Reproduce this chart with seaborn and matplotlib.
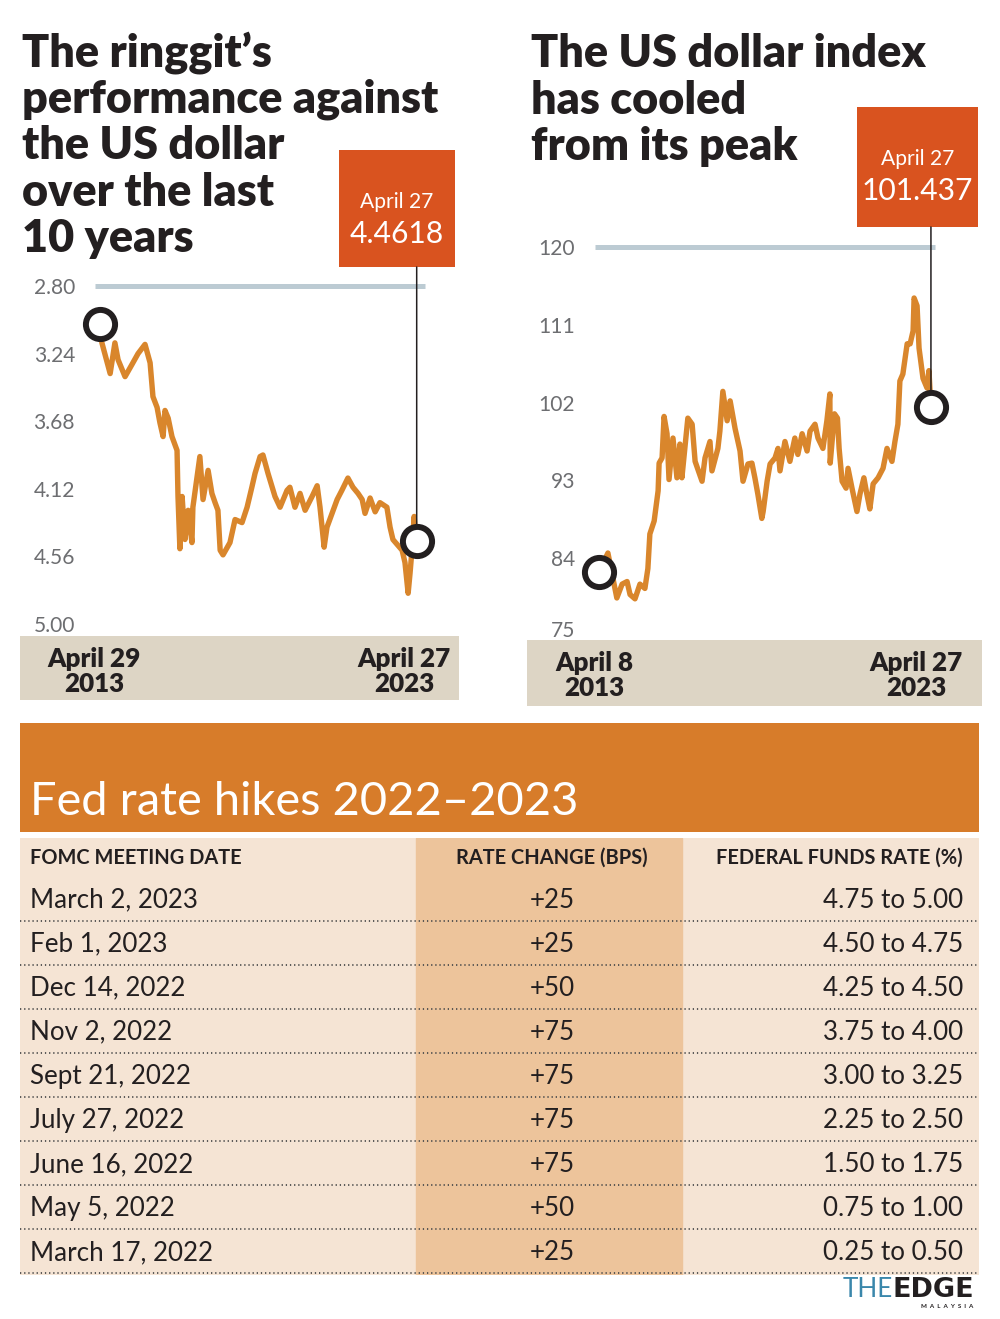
import numpy as np
import pandas as pd
import matplotlib
matplotlib.use("Agg")
import matplotlib.pyplot as plt
import seaborn as sns
from matplotlib.patches import Rectangle, ConnectionPatch
from matplotlib.transforms import blended_transform_factory, ScaledTranslation

# ---------------- data ----------------
ringgit_x = [2013.33, 2013.39, 2013.65, 2013.80, 2013.90, 2014.12, 2014.34, 2014.53, 2014.75, 2014.91,
             2015.00, 2015.13, 2015.22, 2015.32, 2015.38, 2015.48, 2015.60, 2015.76, 2015.79, 2015.85,
             2015.92, 2016.01, 2016.11, 2016.23, 2016.26, 2016.48, 2016.58, 2016.74, 2016.86, 2016.96,
             2017.05, 2017.12, 2017.21, 2017.43, 2017.59, 2017.81, 2017.97, 2018.12, 2018.22, 2018.38,
             2018.47, 2018.63, 2018.85, 2019.01, 2019.23, 2019.32, 2019.48, 2019.64, 2019.80, 2020.02,
             2020.18, 2020.27, 2020.40, 2020.49, 2020.65, 2020.81, 2020.96, 2021.15, 2021.31, 2021.47,
             2021.60, 2021.69, 2021.85, 2022.01, 2022.16, 2022.38, 2022.48, 2022.57, 2022.86, 2022.95,
             2023.05, 2023.11, 2023.17, 2023.24, 2023.28, 2023.32]
ringgit_y = [3.05, 3.17, 3.37, 3.17, 3.28, 3.39, 3.31, 3.24, 3.18, 3.30,
             3.52, 3.59, 3.69, 3.78, 3.61, 3.66, 3.78, 3.87, 4.17, 4.51,
             4.17, 4.45, 4.26, 4.47, 4.24, 3.91, 4.19, 4.00, 4.15, 4.21,
             4.26, 4.52, 4.55, 4.47, 4.32, 4.34, 4.24, 4.11, 4.02, 3.91,
             3.90, 4.02, 4.17, 4.24, 4.13, 4.11, 4.24, 4.15, 4.26, 4.17,
             4.10, 4.24, 4.50, 4.37, 4.28, 4.19, 4.13, 4.05, 4.11, 4.15,
             4.19, 4.28, 4.18, 4.27, 4.21, 4.24, 4.37, 4.45, 4.52, 4.60,
             4.80, 4.67, 4.52, 4.30, 4.41, 4.4618]
ringgit_ticks = [2.80, 3.24, 3.68, 4.12, 4.56, 5.00]

dxy_x = [2013.27, 2013.54, 2013.81, 2013.97, 2014.12, 2014.21, 2014.36, 2014.51, 2014.66, 2014.75,
         2014.81, 2014.94, 2015.06, 2015.09, 2015.18, 2015.24, 2015.33, 2015.39, 2015.51, 2015.63,
         2015.72, 2015.78, 2015.96, 2016.09, 2016.18, 2016.39, 2016.48, 2016.63, 2016.69, 2016.87,
         2016.93, 2017.02, 2017.15, 2017.24, 2017.39, 2017.54, 2017.63, 2017.78, 2017.90, 2017.99,
         2018.08, 2018.20, 2018.24, 2018.36, 2018.45, 2018.60, 2018.69, 2018.75, 2018.90, 2019.05,
         2019.20, 2019.29, 2019.42, 2019.57, 2019.66, 2019.81, 2019.90, 2020.05, 2020.17, 2020.26,
         2020.27, 2020.40, 2020.49, 2020.54, 2020.63, 2020.75, 2020.81, 2020.93, 2021.08, 2021.17,
         2021.29, 2021.38, 2021.47, 2021.57, 2021.72, 2021.87, 2021.99, 2022.14, 2022.23, 2022.32,
         2022.38, 2022.47, 2022.60, 2022.69, 2022.78, 2022.81, 2022.90, 2022.96, 2023.08, 2023.20,
         2023.26, 2023.32]
dxy_y = [82.4, 84.6, 79.4, 81.0, 81.3, 79.8, 79.3, 81.0, 80.5, 82.8,
         86.8, 88.3, 91.8, 95.0, 95.6, 100.4, 98.4, 93.1, 97.9, 93.3,
         97.2, 93.3, 100.2, 99.5, 95.2, 92.9, 95.6, 97.5, 94.1, 96.7,
         98.7, 103.3, 99.9, 102.2, 99.0, 96.4, 92.9, 94.9, 95.0, 93.3,
         91.4, 88.6, 89.4, 92.9, 94.9, 95.6, 96.7, 94.1, 97.5, 95.2,
         97.9, 96.0, 98.4, 96.4, 98.7, 99.5, 97.9, 96.7, 99.9, 103.0,
         95.0, 100.7, 100.2, 96.7, 92.9, 92.1, 94.4, 92.1, 89.4, 91.4,
         93.3, 91.4, 89.7, 92.6, 93.3, 94.4, 96.7, 95.2, 97.5, 99.5,
         104.5, 105.3, 108.8, 108.8, 110.3, 114.1, 113.2, 108.3, 104.8, 103.7,
         105.7, 101.437]
dxy_ticks = [75, 84, 93, 102, 111, 120]

left_title = ["The ringgit\u2019s", "performance against", "the US dollar", "over the last", "10 years"]
right_title = ["The US dollar index", "has cooled", "from its peak"]
left_callout = ("April 27", "4.4618")
right_callout = ("April 27", "101.437")
left_dates = [("April 29", "2013"), ("April 27", "2023")]
right_dates = [("April 8", "2013"), ("April 27", "2023")]

table_title = "Fed rate hikes 2022\u20132023"
table_headers = ["FOMC MEETING DATE", "RATE CHANGE (BPS)", "FEDERAL FUNDS RATE (%)"]
fomc_dates = ["March 2, 2023", "Feb 1, 2023", "Dec 14, 2022", "Nov 2, 2022", "Sept 21, 2022",
              "July 27, 2022", "June 16, 2022", "May 5, 2022", "March 17, 2022"]
rate_change = [25, 25, 50, 75, 75, 75, 75, 50, 25]
rate_low = [4.75, 4.50, 4.25, 3.75, 3.00, 2.25, 1.50, 0.75, 0.25]
rate_high = [5.00, 4.75, 4.50, 4.00, 3.25, 2.50, 1.75, 1.00, 0.50]

assert len(ringgit_x) == len(ringgit_y)
assert len(dxy_x) == len(dxy_y)

# ---------------- style ----------------
sns.set_theme(style="white")
plt.rcParams["font.family"] = ["Lato", "DejaVu Sans"]

W, H = 1000, 1319
fig = plt.figure(figsize=(W / 100, H / 100), dpi=100)
fig.patch.set_facecolor("white")

INK = "#231f20"
ORANGE_LINE = "#d9862c"
CALLOUT = "#d9531f"
GRID = "#bccbd3"
BAND = "#ddd5c5"
TICKC = "#6d6e71"


def fx(px):
    return px / W


def fy(py):
    return 1 - py / H


def pt(px):
    return px * 0.72


def rect(x0, y0, x1, y1, color, z=0.5):
    fig.add_artist(Rectangle((fx(x0), fy(y1)), (x1 - x0) / W, (y1 - y0) / H,
                             transform=fig.transFigure, facecolor=color,
                             edgecolor="none", zorder=z))


def add_axes_px(x0, y0, x1, y1):
    return fig.add_axes([fx(x0), fy(y1), (x1 - x0) / W, (y1 - y0) / H])


def chart(ax, xs, ys, ticks, labels, ylim, xlim, box, box_texts, band, dates, date_x,
          bottom_label_lift=0):
    df = pd.DataFrame({"x": xs, "y": ys})
    sns.lineplot(data=df, x="x", y="y", ax=ax, color=ORANGE_LINE, lw=pt(5.4),
                 estimator=None, sort=False, zorder=3)
    for ln in ax.get_lines():
        ln.set_solid_joinstyle("round")
        ln.set_solid_capstyle("round")
    ax.set_xlim(*xlim)
    ax.set_ylim(*ylim)
    ax.axhline(ticks[-1] if ylim[0] < ylim[1] else ticks[0], color=GRID, lw=pt(5),
               clip_on=False, zorder=1, solid_capstyle="butt")
    ax.set_yticks(ticks)
    ax.set_yticklabels(labels)
    ax.set_xticks([])
    ax.tick_params(axis="y", length=0, pad=pt(20), labelsize=pt(21), labelcolor=TICKC)
    if bottom_label_lift:
        lab = ax.get_yticklabels()[0]
        lab.set_transform(lab.get_transform() +
                          ScaledTranslation(0, bottom_label_lift / 100, fig.dpi_scale_trans))
    for s in ax.spines.values():
        s.set_visible(False)
    ax.set_xlabel("")
    ax.set_ylabel("")
    ax.patch.set_alpha(0)
    ax.grid(False)
    # endpoint circles
    for i in (0, -1):
        ax.plot([xs[i]], [ys[i]], "o", ms=21, mfc="white", mec=INK, mew=4.3,
                zorder=6, clip_on=False)
    # callout box
    bx0, by0, bx1, by1 = box
    rect(bx0, by0, bx1, by1, CALLOUT, z=2)
    cx = (bx0 + bx1) / 2
    fig.text(fx(cx), fy(by0 + 58), box_texts[0], color="white", fontsize=pt(21),
             ha="center", va="baseline", zorder=3)
    fig.text(fx(cx), fy(by0 + 93), box_texts[1], color="white", fontsize=pt(30),
             ha="center", va="baseline", zorder=3)
    # connector from box bottom to last point
    trans_b = blended_transform_factory(ax.transData, fig.transFigure)
    con = ConnectionPatch(xyA=(xs[-1], ys[-1]), coordsA=ax.transData,
                          xyB=(xs[-1], fy(by1)), coordsB=trans_b,
                          arrowstyle="-", color=INK, lw=1.1, shrinkA=12.5, shrinkB=0,
                          zorder=4)
    fig.add_artist(con)
    # date band
    rect(*band, BAND, z=0.5)
    for (l1, l2), dx in zip(dates, date_x):
        fig.text(fx(dx), fy(band[1] + 31), l1, fontsize=pt(26), fontweight="heavy",
                 color=INK, ha="center", va="baseline", zorder=3)
        fig.text(fx(dx), fy(band[1] + 56), l2, fontsize=pt(26), fontweight="heavy",
                 color=INK, ha="center", va="baseline", zorder=3)


# ---------------- titles ----------------
for i, line in enumerate(left_title):
    fig.text(fx(22), fy(66 + 46.5 * i), line, fontsize=pt(45), fontweight="heavy",
             color=INK, ha="left", va="baseline")
for i, line in enumerate(right_title):
    fig.text(fx(531), fy(67 + 46.5 * i), line, fontsize=pt(45), fontweight="heavy",
             color=INK, ha="left", va="baseline")

# ---------------- left chart ----------------
axL = add_axes_px(95, 286, 425, 624)
chart(axL, ringgit_x, ringgit_y, ringgit_ticks, [f"{t:.2f}" for t in ringgit_ticks],
      ylim=(5.00, 2.80), xlim=(2013.172, 2023.582),
      box=(339, 150, 455, 267), box_texts=left_callout,
      band=(20, 636, 459, 700), dates=left_dates, date_x=[94, 404])

# ---------------- right chart ----------------
axR = add_axes_px(595, 247, 935, 636)
chart(axR, dxy_x, dxy_y, dxy_ticks, [str(t) for t in dxy_ticks],
      ylim=(75, 120), xlim=(2013.149, 2023.443),
      box=(857, 107, 978, 227), box_texts=right_callout,
      band=(527, 640, 982, 706), dates=right_dates, date_x=[594, 916],
      bottom_label_lift=7)

# ---------------- table ----------------
rect(20, 723, 979, 832, "#d77c2a", z=0.5)
fig.text(fx(30), fy(815), table_title, color="white", fontsize=pt(47),
         ha="left", va="baseline")

axT = add_axes_px(20, 838, 979, 1275)
axT.set_xlim(20, 979)
axT.set_ylim(1275, 838)
axT.axis("off")
axT.axvspan(20, 979, color="#f5e4d4", zorder=0)
axT.axvspan(416, 682, color="#edc49b", zorder=0.5)

hy = 858
axT.text(30, hy, table_headers[0], fontsize=pt(20), fontweight="bold", color=INK,
         ha="left", va="center")
axT.text(552, hy, table_headers[1], fontsize=pt(20), fontweight="bold", color=INK,
         ha="center", va="center")
axT.text(963, hy, table_headers[2], fontsize=pt(20), fontweight="bold", color=INK,
         ha="right", va="center")

row_h = 44.1
for i, (d, c, lo, hi) in enumerate(zip(fomc_dates, rate_change, rate_low, rate_high)):
    yc = 900 + row_h * i
    axT.text(30, yc, d, fontsize=pt(26), color=INK, ha="left", va="center")
    axT.text(552, yc, f"+{c}", fontsize=pt(26), color=INK, ha="center", va="center")
    axT.text(963, yc, f"{lo:.2f} to {hi:.2f}", fontsize=pt(26), color=INK,
             ha="right", va="center")
    axT.axhline(yc + 20.5, color="#4d4d4d", lw=1.3, ls=(0, (0.7, 1.6)), zorder=2)

# ---------------- logo ----------------
fig.text(fx(974), fy(1297), "EDGE", fontsize=pt(27), fontweight="bold",
         family=["DejaVu Sans"], color=INK, ha="right", va="baseline")
fig.text(fx(893), fy(1297), "THE", fontsize=pt(26), fontweight="normal",
         color="#3a87ab", ha="right", va="baseline")
fig.text(fx(973), fy(1308), "M  A  L  A  Y  S  I  A", fontsize=4.5, fontweight="bold",
         color=INK, ha="right", va="baseline")

fig.savefig("out.png", dpi=100, facecolor="white")
